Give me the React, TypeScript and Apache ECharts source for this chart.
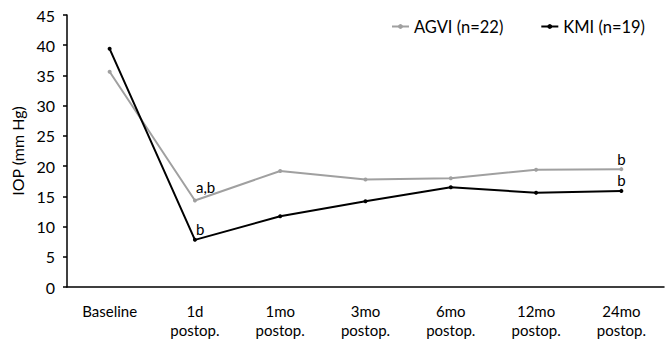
import React, { useEffect, useRef } from "react";
import * as echarts from "echarts";

const categories = ["Baseline", "1d\npostop.", "1mo\npostop.", "3mo\npostop.", "6mo\npostop.", "12mo\npostop.", "24mo\npostop."];
const agviValues = [35.6, 14.3, 19.2, 17.8, 18.0, 19.4, 19.5];
const kmiValues = [39.4, 7.8, 11.7, 14.2, 16.5, 15.6, 15.9];
const agviNotes = ["", "a,b", "", "", "", "", "b"];
const kmiNotes = ["", "b", "", "", "", "", "b"];
const yTicks = { min: 0, max: 45, interval: 5 };

const FONT = "Lato, 'Open Sans', sans-serif";

function withNotes(values: number[], notes: string[]) {
  const last = values.length - 1;
  return values.map((v, i) =>
    notes[i]
      ? {
          value: v,
          label: {
            show: true,
            position: "top",
            align: i === last ? "center" : "left",
            offset: [i === last ? 0 : 1, 0],
            formatter: notes[i],
            color: "#000",
            fontSize: 15,
            fontFamily: FONT,
            distance: notes[i].length > 1 ? 4 : 1,
          },
        }
      : v
  );
}

export default function App() {
  const ref = useRef<HTMLDivElement>(null);
  useEffect(() => {
    document.body.style.margin = "0";
    if (!ref.current) return;
    const chart = echarts.init(ref.current, undefined, { renderer: "svg" });
    chart.setOption({
      animation: false,
      backgroundColor: "#fff",
      textStyle: { fontFamily: FONT },
      legend: {
        top: 13,
        right: 19,
        itemGap: 37,
        itemWidth: 17,
        itemHeight: 6,
        textStyle: { fontSize: 16.5, color: "#000", fontFamily: FONT },
        data: ["AGVI (n=22)", "KMI (n=19)"],
      },
      grid: { left: 67, right: 5, top: 15, bottom: 55, containLabel: false },
      xAxis: {
        type: "category",
        data: categories,
        boundaryGap: true,
        axisLine: { lineStyle: { color: "#000", width: 1.5 } },
        axisTick: { alignWithLabel: true, inside: true, length: 4, lineStyle: { color: "#000", width: 1.5 } },
        axisLabel: { color: "#000", fontSize: 15, lineHeight: 19, margin: 14, fontFamily: FONT },
      },
      yAxis: {
        type: "value",
        min: yTicks.min,
        max: yTicks.max,
        interval: yTicks.interval,
        name: "IOP (mm Hg)",
        nameLocation: "middle",
        nameGap: 39,
        nameTextStyle: { color: "#000", fontSize: 16, fontFamily: FONT },
        axisLine: { show: true, lineStyle: { color: "#000", width: 1.5 } },
        axisTick: { show: true, length: 4, lineStyle: { color: "#000", width: 1.5 } },
        axisLabel: { color: "#000", fontSize: 16, margin: 12, fontFamily: FONT },
        splitLine: { show: false },
      },
      series: [
        {
          name: "AGVI (n=22)",
          type: "line",
          data: withNotes(agviValues, agviNotes),
          color: "#a0a0a0",
          symbol: "circle",
          symbolSize: 4,
          lineStyle: { width: 2, color: "#a0a0a0" },
          itemStyle: { color: "#a0a0a0" },
          z: 2,
        },
        {
          name: "KMI (n=19)",
          type: "line",
          data: withNotes(kmiValues, kmiNotes),
          color: "#000",
          symbol: "circle",
          symbolSize: 4,
          lineStyle: { width: 2, color: "#000" },
          itemStyle: { color: "#000" },
          z: 3,
        },
      ],
    });
    return () => chart.dispose();
  }, []);
  return <div ref={ref} style={{ width: 669, height: 342 }} />;
}
